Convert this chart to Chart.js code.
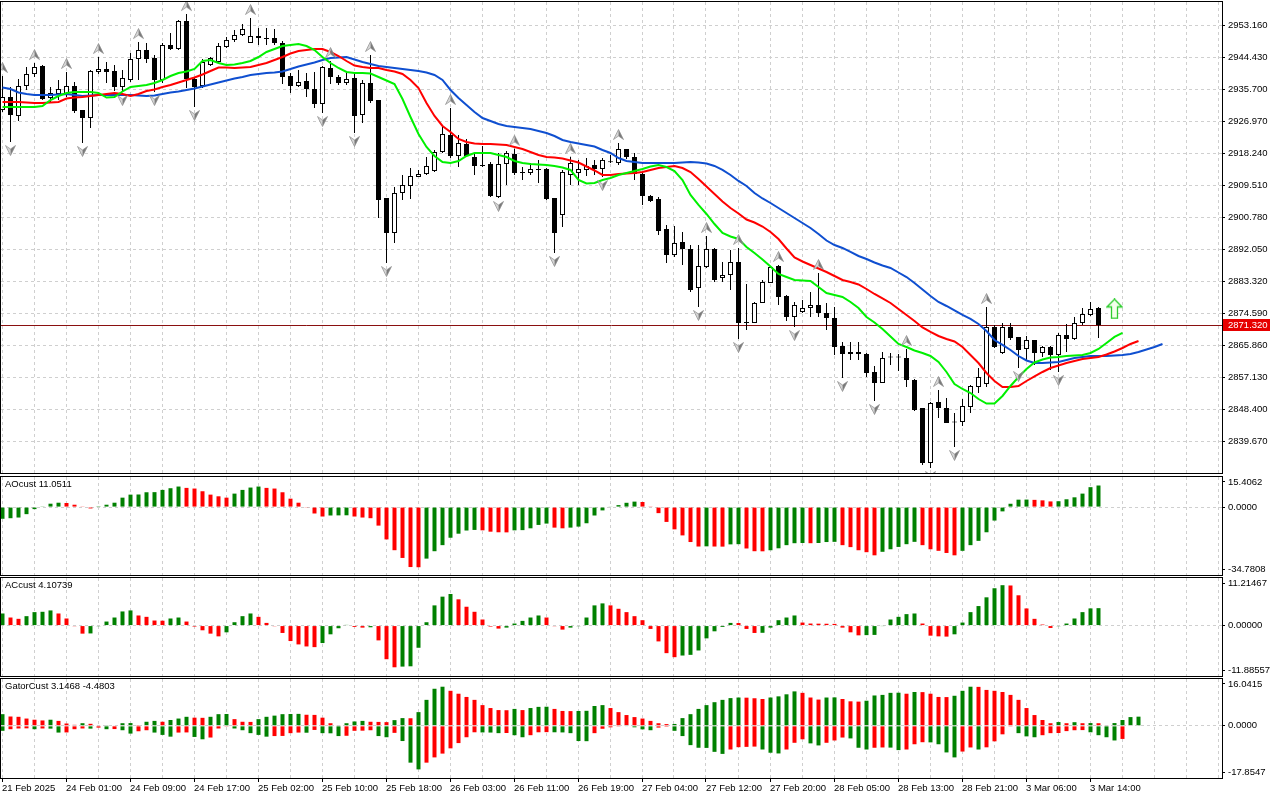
<!DOCTYPE html>
<html><head><meta charset="utf-8">
<script src="https://cdn.jsdelivr.net/npm/chart.js@4.4.1/dist/chart.umd.min.js"></script>
<style>
html,body{margin:0;padding:0;background:#fff;width:1280px;height:800px;overflow:hidden;}
canvas{position:absolute;left:0;}
</style></head><body>
<canvas id="cMain" width="1280" height="476" style="top:0px"></canvas>
<canvas id="cAO" width="1280" height="100" style="top:476px"></canvas>
<canvas id="cAC" width="1280" height="100" style="top:577px"></canvas>
<canvas id="cGator" width="1280" height="122" style="top:678px"></canvas>
<script>
// ---------------- DATA ----------------
const timeLabels = ['21 Feb 2025','24 Feb 01:00','24 Feb 09:00','24 Feb 17:00','25 Feb 02:00','25 Feb 10:00','25 Feb 18:00','26 Feb 03:00','26 Feb 11:00','26 Feb 19:00','27 Feb 04:00','27 Feb 12:00','27 Feb 20:00','28 Feb 05:00','28 Feb 13:00','28 Feb 21:00','3 Mar 06:00','3 Mar 14:00'];

const priceTicks = [2953.160, 2944.430, 2935.700, 2926.970, 2918.240, 2909.510, 2900.780, 2892.050, 2883.320, 2874.590, 2865.860, 2857.130, 2848.400, 2839.670];

const open = [
2929.97,2933.52,2928.34,2936.52,2939.79,2941.98,2933.25,2934.34,2934.07,2936.52,
2929.97,2927.79,2940.34,2941.16,2940.61,2936.25,2938.16,2943.88,2946.34,2944.16,
2938.16,2947.70,2946.61,2954.25,2938.43,2936.52,2942.25,2943.07,2947.16,2949.07,
2950.43,2948.25,2950.16,2949.61,2949.61,2948.25,2939.25,2936.52,2937.88,2935.70,
2931.61,2941.43,2938.98,2937.34,2938.70,2928.61,2937.34,2932.70,2905.97,2896.42,
2907.33,2909.24,2911.69,2912.51,2913.33,2918.51,2923.16,2917.42,2920.70,2917.15,
2914.97,2915.24,2906.24,2915.24,2917.97,2913.06,2912.79,2913.61,2913.88,2905.97,
2901.33,2912.24,2912.79,2913.61,2914.97,2913.88,2915.79,2915.51,2919.33,2917.15,
2912.51,2906.51,2905.69,2897.51,2890.42,2893.96,2892.05,2881.41,2887.14,2892.05,
2884.14,2884.96,2888.51,2872.14,2871.87,2877.32,2882.78,2887.42,2879.23,2873.50,
2874.87,2875.96,2876.78,2874.59,2873.23,2865.59,2863.41,2863.96,2863.41,2858.50,
2855.50,2862.59,2862.59,2862.32,2856.32,2848.68,2833.67,2850.31,2848.68,2844.86,
2844.86,2848.95,2854.41,2855.22,2870.77,2863.68,2870.77,2868.05,2864.77,2867.23,
2863.68,2865.32,2863.14,2868.59,2867.50,2871.87,2874.05,2875.96];

const high = [
2939.25,2936.25,2938.43,2941.70,2942.79,2942.25,2936.25,2938.16,2940.34,2937.61,
2929.97,2940.88,2944.43,2943.07,2942.25,2940.88,2945.52,2948.52,2948.25,2944.98,
2948.25,2950.98,2954.52,2956.16,2938.98,2943.88,2944.43,2948.25,2949.89,2951.80,
2953.43,2955.07,2952.34,2952.34,2952.07,2948.80,2940.07,2940.88,2940.07,2940.34,
2941.98,2943.34,2939.52,2940.34,2940.07,2938.16,2944.98,2932.70,2905.97,2908.97,
2912.24,2914.15,2913.61,2917.15,2919.06,2925.88,2930.52,2923.16,2922.06,2918.24,
2920.15,2915.79,2918.24,2918.80,2919.40,2914.42,2915.51,2916.34,2914.15,2905.97,
2913.61,2917.20,2916.34,2916.88,2916.34,2916.88,2917.70,2920.97,2919.33,2918.24,
2912.79,2906.79,2906.24,2898.60,2898.33,2896.69,2893.14,2893.14,2895.60,2892.33,
2888.51,2891.78,2892.33,2882.50,2877.59,2883.60,2887.42,2887.69,2879.50,2877.59,
2878.14,2880.32,2885.51,2877.32,2876.23,2866.68,2866.68,2866.68,2863.68,2860.14,
2863.96,2863.68,2863.41,2864.77,2856.59,2848.68,2850.31,2853.59,2851.41,2847.32,
2851.13,2854.95,2859.59,2876.23,2871.32,2871.87,2871.87,2868.05,2868.32,2867.23,
2865.59,2865.59,2869.14,2871.59,2873.50,2875.96,2877.59,2876.23];

const low = [
2929.43,2921.24,2926.97,2935.43,2938.98,2932.70,2931.88,2932.70,2933.52,2929.15,
2920.97,2925.06,2939.79,2937.34,2935.16,2934.88,2937.61,2938.16,2942.79,2934.88,
2937.34,2946.34,2946.34,2935.97,2930.79,2935.97,2941.98,2942.52,2946.89,2948.52,
2950.16,2948.25,2947.70,2947.70,2947.70,2937.06,2934.61,2936.25,2933.52,2930.52,
2929.15,2937.06,2936.79,2936.79,2923.70,2926.43,2931.88,2900.51,2888.23,2893.69,
2905.42,2905.69,2911.69,2912.24,2913.06,2918.24,2916.88,2914.42,2917.15,2912.24,
2914.42,2906.24,2905.97,2909.51,2912.24,2910.88,2912.24,2910.06,2905.42,2890.96,
2898.05,2909.51,2909.51,2911.97,2912.24,2911.69,2915.51,2914.97,2916.61,2910.88,
2904.06,2904.88,2895.87,2888.23,2889.87,2887.69,2880.32,2876.23,2886.87,2883.05,
2883.05,2880.87,2867.50,2869.96,2871.87,2877.32,2882.78,2876.78,2872.41,2870.77,
2874.59,2873.50,2873.50,2869.96,2863.14,2856.86,2861.78,2861.78,2857.13,2850.59,
2855.50,2860.41,2858.77,2854.41,2847.86,2833.13,2832.31,2845.95,2844.59,2838.04,
2843.77,2847.32,2852.77,2854.41,2865.05,2863.41,2867.23,2859.59,2861.78,2860.41,
2862.59,2859.05,2858.50,2863.96,2867.23,2871.32,2873.78,2867.77];

const close = [
2933.52,2928.61,2936.52,2939.79,2941.70,2932.97,2934.61,2935.70,2936.52,2929.70,
2927.79,2940.61,2941.16,2940.34,2936.25,2938.70,2943.88,2946.34,2943.88,2938.16,
2947.70,2946.61,2954.25,2938.43,2936.25,2943.07,2944.16,2947.43,2949.07,2950.43,
2952.07,2950.16,2949.61,2949.34,2948.25,2938.98,2936.52,2937.61,2935.70,2931.61,
2941.70,2938.98,2937.34,2938.43,2928.34,2937.34,2932.43,2905.42,2896.42,2907.33,
2909.51,2911.97,2912.51,2914.70,2918.51,2923.43,2917.42,2920.97,2917.42,2914.70,
2914.70,2906.51,2915.24,2918.24,2912.79,2912.79,2913.88,2913.75,2905.69,2896.42,
2913.06,2915.51,2913.88,2914.70,2913.88,2916.34,2915.70,2919.33,2917.15,2912.51,
2906.51,2905.15,2896.96,2890.42,2893.69,2892.05,2880.87,2887.42,2892.05,2883.60,
2884.96,2888.51,2871.87,2871.87,2877.32,2883.05,2887.14,2878.96,2873.50,2876.78,
2875.96,2876.78,2874.59,2873.23,2865.32,2863.41,2863.96,2863.41,2858.23,2855.50,
2862.32,2862.45,2862.45,2856.32,2848.14,2833.67,2850.04,2848.68,2844.59,2844.72,
2849.22,2854.68,2857.13,2870.77,2865.32,2870.77,2867.77,2864.50,2867.23,2863.68,
2865.32,2863.14,2868.59,2867.50,2871.87,2874.32,2875.69,2871.32];

// Alligator lines (already shifted forward as drawn)
const jaw = [
2936.11,2935.70,2934.75,2934.34,2934.07,2934.07,2934.07,2934.20,2934.34,2934.07,
2933.79,2933.93,2934.07,2934.07,2934.07,2934.07,2934.07,2933.93,2933.79,2933.93,
2934.34,2934.75,2935.02,2935.43,2935.84,2936.39,2936.93,2937.48,2938.02,2938.57,
2938.98,2939.52,2939.79,2940.07,2940.20,2940.47,2941.16,2941.84,2942.38,2942.93,
2943.61,2944.16,2944.29,2944.43,2943.75,2943.07,2942.52,2941.98,2941.70,2941.43,
2941.16,2940.88,2940.61,2940.20,2939.52,2938.16,2935.43,2933.25,2931.34,2929.43,
2927.79,2926.97,2926.16,2925.61,2925.34,2925.06,2924.79,2924.25,2923.70,2922.88,
2921.79,2921.24,2920.83,2920.42,2920.02,2919.06,2918.24,2916.88,2916.06,2915.79,
2915.51,2915.51,2915.51,2915.51,2915.51,2915.65,2915.79,2915.65,2915.38,2914.70,
2913.61,2912.24,2910.61,2909.24,2907.33,2905.83,2904.60,2903.24,2901.87,2900.51,
2899.15,2897.78,2896.15,2894.37,2893.14,2892.33,2891.24,2890.15,2889.33,2888.37,
2887.55,2886.87,2885.64,2884.41,2882.78,2881.01,2879.23,2877.59,2876.50,2875.28,
2874.05,2872.96,2871.59,2869.69,2867.23,2865.87,2864.50,2862.86,2861.64,2860.95,
2860.95,2861.09,2861.23,2861.78,2862.32,2862.59,2862.86,2862.86,2862.86,2863.00,
2863.14,2863.41,2863.96,2864.64,2865.32,2866.14];

const teeth = [
2932.15,2932.15,2932.15,2932.02,2931.88,2931.88,2932.02,2932.15,2933.11,2933.38,
2933.52,2933.79,2934.07,2934.34,2934.61,2934.34,2933.79,2934.34,2935.16,2935.56,
2936.25,2936.79,2937.48,2938.16,2938.84,2939.66,2940.61,2941.57,2941.57,2941.43,
2941.57,2941.70,2942.25,2942.79,2943.61,2944.43,2945.39,2946.07,2946.34,2946.61,
2946.61,2945.79,2944.70,2943.34,2942.11,2941.70,2941.43,2941.43,2940.88,2940.47,
2939.79,2938.16,2935.97,2931.88,2928.34,2925.61,2923.97,2922.06,2921.24,2920.83,
2920.70,2920.70,2920.56,2920.42,2919.88,2919.33,2918.51,2917.70,2917.15,2917.01,
2916.74,2916.20,2915.65,2914.56,2913.47,2912.24,2912.24,2912.51,2912.65,2912.79,
2913.06,2913.61,2914.15,2914.43,2914.70,2914.15,2913.06,2911.15,2909.10,2907.06,
2905.01,2903.24,2901.74,2900.10,2899.28,2898.19,2896.69,2894.78,2892.19,2889.74,
2888.64,2887.69,2886.73,2885.78,2884.69,2883.60,2883.05,2882.37,2881.14,2879.78,
2878.55,2877.32,2875.69,2874.05,2872.41,2870.64,2869.41,2868.32,2867.50,2866.82,
2865.32,2863.14,2860.95,2858.23,2856.04,2854.41,2854.41,2854.68,2856.04,2857.27,
2858.50,2859.59,2860.27,2860.95,2861.50,2862.04,2862.32,2862.59,2863.27,2864.09,
2865.05,2866.14,2866.96];

const lips = [
2930.79,2930.79,2930.79,2930.79,2930.79,2931.06,2932.70,2933.79,2934.61,2934.88,
2934.88,2934.88,2934.61,2933.38,2933.52,2935.02,2936.25,2936.52,2936.79,2937.34,
2938.16,2939.25,2940.07,2940.47,2941.16,2943.34,2943.61,2942.79,2942.25,2942.38,
2942.79,2943.34,2944.43,2945.79,2946.61,2947.43,2947.70,2947.98,2947.43,2946.34,
2944.43,2942.79,2941.43,2940.34,2940.07,2940.07,2939.93,2938.98,2938.02,2937.06,
2932.97,2928.07,2923.43,2919.88,2917.42,2915.79,2915.51,2916.06,2917.42,2918.24,
2918.24,2918.24,2917.70,2917.15,2916.06,2915.51,2915.24,2915.10,2914.97,2914.70,
2914.29,2913.61,2910.88,2909.92,2910.06,2910.88,2911.42,2912.24,2912.79,2913.33,
2913.88,2914.56,2914.97,2914.42,2913.33,2910.88,2906.79,2904.06,2901.60,2898.87,
2896.42,2895.46,2894.78,2892.60,2890.96,2889.19,2887.28,2885.23,2884.42,2883.60,
2883.46,2883.32,2881.69,2880.05,2879.50,2878.96,2877.59,2875.96,2873.50,2872.00,
2870.23,2868.19,2866.14,2865.32,2864.36,2863.68,2862.86,2861.23,2858.50,2855.22,
2853.86,2852.77,2851.13,2849.90,2849.90,2851.95,2854.68,2857.13,2859.32,2861.09,
2861.91,2862.46,2862.59,2862.86,2863.00,2863.14,2863.68,2864.77,2866.41,2868.05,
2869.14];

const upFractals = [0,4,8,12,17,23,31,41,46,56,64,71,77,88,92,97,102,113,117,123];
const downFractals = [1,10,15,19,24,40,44,48,62,69,75,87,92,99,105,109,116,119,127,132];
const buySignalIndex = [139];
const buySignalPrice = [2875.70];

const ao = [
-6.0,-5.7,-5.35,-3.62,-1.04,0.35,1.73,2.24,2.10,1.21,
0.17,-0.69,0.1,1.21,2.24,4.83,6.38,6.45,7.59,7.65,
8.80,9.66,10.52,9.83,9.49,8.11,6.38,5.52,4.83,6.90,
8.80,10.0,10.52,9.83,9.49,7.59,4.31,2.24,-0.17,-3.28,
-4.83,-4.31,-4.25,-4.2,-4.83,-5.35,-5.69,-9.49,-16.56,-22.08,
-26.05,-30.71,-30.8,-26.39,-22.6,-19.49,-15.7,-13.63,-12.0,-11.7,
-11.9,-12.6,-12.9,-12.95,-11.9,-11.8,-10.87,-9.14,-8.45,-10.52,
-10.87,-10.52,-10.0,-8.28,-4.31,-1.7,0.2,1.0,2.2,2.8,
2.6,0.35,-3.1,-7.6,-11.4,-14.5,-17.9,-20.2,-20.1,-20.2,
-20.25,-19.1,-19.0,-21.2,-22.6,-22.65,-22.1,-21.1,-19.5,-18.5,
-18.4,-18.5,-18.4,-17.9,-17.8,-19.5,-20.5,-22.1,-23.1,-24.7,
-22.9,-21.6,-20.4,-19.0,-17.8,-19.5,-21.6,-22.4,-23.5,-24.7,
-22.4,-19.5,-17.3,-12.9,-6.9,-2.2,1.7,3.8,3.85,3.7,
3.45,2.9,3.0,4.0,5.0,6.9,10.2,11.0511];

const ac = [
2.85,1.90,1.59,2.22,3.17,3.25,3.57,2.85,1.67,-0.16,
-1.90,-1.85,-0.16,0.95,1.90,3.33,3.57,2.38,2.06,1.19,
1.15,1.67,1.90,0.95,-0.24,-1.11,-1.90,-2.54,-1.59,0.79,
2.22,2.85,2.06,0.63,-0.16,-1.74,-3.65,-4.44,-4.92,-5.08,
-4.12,-2.06,-0.63,0.16,-0.32,-0.48,-0.40,-3.49,-7.93,-9.83,
-9.67,-9.60,-5.23,0.79,4.76,6.82,7.45,6.19,4.44,3.25,
1.43,-0.24,-0.71,-0.48,0.48,1.11,1.90,2.38,1.90,-0.16,
-0.95,-0.48,-0.16,1.90,4.76,5.23,4.76,3.96,3.17,2.22,
1.27,-0.79,-3.73,-6.50,-7.45,-7.06,-6.90,-5.87,-3.01,-1.35,
-0.32,0.63,0.60,-0.79,-1.74,-1.70,-0.48,1.27,1.90,2.38,
0.71,0.48,0.45,0.43,0.40,-0.48,-1.59,-2.30,-2.25,-2.20,
-0.08,1.43,2.06,2.70,2.85,0.48,-2.38,-2.54,-2.60,-2.06,
0.71,3.17,4.60,6.66,8.80,9.52,9.45,7.14,4.04,1.59,
0.24,-0.56,-0.16,0.48,1.67,3.17,4.05,4.10739];

const gatorUp = [
4.0,3.2,3.1,2.5,2.1,1.85,2.1,1.7,0.8,0.35,
0.9,0.7,0.2,0.25,0.15,0.9,0.95,0.05,1.4,1.7,
1.4,2.0,2.5,3.1,2.8,2.75,3.1,4.0,4.05,2.3,
1.4,1.35,2.3,3.1,3.5,4.0,4.05,4.1,3.8,3.75,
2.8,0.9,0.1,0.9,1.5,1.7,1.4,1.35,1.27,1.96,
2.65,2.6,4.7,8.9,12.7,13.4,12.0,11.0,9.9,8.9,
7.1,6.1,5.4,5.35,5.8,5.4,6.1,6.5,6.55,5.8,
5.1,5.05,5.1,5.15,6.8,7.1,6.1,4.7,3.7,3.0,
2.5,1.7,0.9,0.6,0.65,2.65,4.0,5.8,7.1,8.1,
8.9,9.5,9.7,9.65,9.45,9.2,9.7,10.1,10.8,11.8,
11.3,9.7,9.0,9.7,9.75,9.2,8.4,8.3,8.6,10.4,
10.6,11.3,11.35,11.0,11.6,11.55,11.0,9.9,9.85,10.3,
12.0,13.4,13.35,12.3,12.0,11.6,10.6,8.9,6.1,3.7,
2.0,0.9,1.3,0.9,1.25,0.9,0.95,0.9,0.1,0.95,
2.0,3.0,3.1468];

const gatorLo = [
1.7,1.15,0.9,0.85,1.15,0.9,0.95,2.3,2.25,1.15,
0.9,0.95,0.6,1.15,1.1,1.5,2.65,1.85,1.5,2.3,
3.1,3.7,2.3,2.25,3.8,4.6,4.0,0.9,0.1,0.9,
1.5,2.5,3.1,3.7,3.5,3.45,2.5,2.3,2.35,1.4,
2.5,2.55,3.5,3.4,1.7,1.65,1.5,3.5,3.9,2.4,
5.2,12.6,14.9,12.6,10.8,9.5,7.7,5.9,3.9,2.2,
2.25,2.3,2.5,2.45,3.2,3.9,3.2,2.2,2.15,2.2,
2.25,2.5,5.2,5.25,2.5,1.0,0.5,0.1,0.15,0.5,
1.2,1.5,0.6,0.3,1.7,3.5,6.6,7.5,7.55,8.9,
9.6,8.1,7.3,7.2,7.1,8.1,9.2,9.45,8.1,5.8,
4.6,6.0,6.7,5.8,5.0,4.0,4.3,7.5,8.1,7.5,
7.4,7.45,8.3,8.1,6.3,5.6,5.65,6.3,9.1,10.8,
8.8,7.4,8.1,7.35,5.3,2.9,0.1,2.5,3.6,3.9,
3.2,2.5,2.45,1.8,1.5,1.45,2.2,3.2,3.9,5.0,
4.4803];

// axis ranges / labels
const priceMin = 2830.941, priceMax = 2959.435;
const aoRange = [-34.7808, 15.4062], aoAxisLabels = ['15.4062','0.0000','-34.7808'];
const acRange = [-11.88557, 11.21467], acAxisLabels = ['11.21467','0.00000','-11.88557'];
const gatorRange = [-17.8547, 16.0415], gatorAxisLabels = ['16.0415','0.0000','-17.8547'];

// ---------------- STYLE ----------------
const X_MIN = -0.1875, X_MAX = 152.4375;
const GRID = '#cfcfcf';
const GREEN = '#008000', RED = '#ff0000';
const FONT = {family: "'Liberation Sans', Arial, sans-serif", size: 9.5};
const FONT_CSS = "9.5px 'Liberation Sans', Arial, sans-serif";

const framePlugin = {
  id: 'frame',
  beforeDatasetsDraw(chart, args, opts) {
    if (!opts.priceLabel) return;
    const {ctx, chartArea: a} = chart;
    const y = Math.round(chart.scales.y.getPixelForValue(opts.priceLabel.value)) + 0.5;
    ctx.save();
    ctx.strokeStyle = '#8a1010'; ctx.lineWidth = 1;
    ctx.beginPath(); ctx.moveTo(a.left, y); ctx.lineTo(a.right, y); ctx.stroke();
    ctx.restore();
  },
  afterDraw(chart, args, opts) {
    const {ctx, chartArea: a} = chart;
    ctx.save();
    ctx.strokeStyle = '#000'; ctx.lineWidth = 1;
    ctx.strokeRect(a.left - 0.5, a.top - 0.5, a.right - a.left + 1, a.bottom - a.top + 1);
    if (opts.title) {
      ctx.fillStyle = '#000'; ctx.font = FONT_CSS; ctx.textBaseline = 'top'; ctx.textAlign = 'left';
      ctx.fillText(opts.title, a.left + 4, a.top + 3);
    }
    if (opts.priceLabel) {
      const y = Math.round(chart.scales.y.getPixelForValue(opts.priceLabel.value));
      ctx.fillStyle = '#e60000';
      ctx.fillRect(a.right + 1, y - 6, 47, 12);
      ctx.fillStyle = '#fff'; ctx.font = FONT_CSS; ctx.textBaseline = 'middle'; ctx.textAlign = 'left';
      ctx.fillText(opts.priceLabel.text, a.right + 6, y + 0.5);
    }
    ctx.restore();
  }
};

function xScale(withLabels) {
  const isLab = (i) => i % 2 === 0 && i / 2 < timeLabels.length;
  return {
    type: 'linear', min: X_MIN, max: X_MAX, offset: false,
    grid: { color: GRID, lineWidth: 1, offset: false, drawTicks: withLabels, tickLength: 4, tickWidth: 1,
            tickColor: (c) => (withLabels && isLab(c.index)) ? '#000' : 'rgba(0,0,0,0)', tickBorderDash: [] },
    border: { display: false, dash: [3, 3] },
    ticks: { display: withLabels, autoSkip: false, maxRotation: 0, minRotation: 0, align: 'start', padding: 1,
             color: '#000', font: FONT, callback: (v, i) => isLab(i) ? timeLabels[i / 2] : '' },
    afterBuildTicks: (ax) => { const t = []; for (let k = 0; k <= 38; k++) t.push({value: 4 * k - 0.0625}); ax.ticks = t; },
    afterFit: (ax) => { ax.height = withLabels ? 22 : 0; ax.paddingLeft = 0; ax.paddingRight = 0; }
  };
}

function subY(range, labels, paneH, gridOnTop) {
  const [min, max] = range;
  return {
    type: 'linear', position: 'right', min, max,
    grid: { color: (c) => (c.tick && c.tick.value === 0) ? GRID : 'rgba(0,0,0,0)', drawTicks: true, tickLength: 3,
            tickColor: '#000', tickBorderDash: [], z: gridOnTop ? 1 : 0 },
    border: { display: false, dash: [3, 3] },
    ticks: { autoSkip: false, padding: 3, color: '#000', font: FONT, callback: (v, i) => labels[i] },
    afterBuildTicks: (ax) => { const vpp = (max - min) / paneH; ax.ticks = [{value: max - 5 * vpp}, {value: 0}, {value: min + 6 * vpp}]; },
    afterFit: (ax) => { ax.width = 58; ax.paddingTop = 0; ax.paddingBottom = 0; }
  };
}

function histColors(vals) {
  const out = []; let col = GREEN;
  vals.forEach((v, i) => { if (i > 0) { if (v > vals[i-1]) col = GREEN; else if (v < vals[i-1]) col = RED; } out.push(col); });
  return out;
}

function arrowImg(up) {
  const c = document.createElement('canvas'); c.width = 11; c.height = 28;
  const g = c.getContext('2d');
  if (!up) { g.translate(0, 28); g.scale(1, -1); }
  g.beginPath(); g.moveTo(5.5, 0.5); g.lineTo(5.5, 7); g.lineTo(0.5, 10.5); g.closePath();
  g.fillStyle = '#d6d6d6'; g.fill();
  g.beginPath(); g.moveTo(5.5, 0.5); g.lineTo(10.5, 10.5); g.lineTo(5.5, 7); g.closePath();
  g.fillStyle = '#7a7a7a'; g.fill();
  g.beginPath(); g.moveTo(5.5, 0.5); g.lineTo(10.5, 10.5); g.lineTo(5.5, 7); g.lineTo(0.5, 10.5); g.closePath();
  g.strokeStyle = '#8c8c8c'; g.lineWidth = 0.7; g.stroke();
  return c;
}
function buyImg() {
  const c = document.createElement('canvas'); c.width = 17; c.height = 21;
  const g = c.getContext('2d');
  g.beginPath(); g.moveTo(8.5, 0.8); g.lineTo(16, 8.5); g.lineTo(11.5, 8.5); g.lineTo(11.5, 20); g.lineTo(5.5, 20); g.lineTo(5.5, 8.5); g.lineTo(1, 8.5); g.closePath();
  g.fillStyle = '#f4ffec'; g.fill(); g.strokeStyle = '#2ecc2e'; g.lineWidth = 1.3; g.stroke();
  return c;
}

const baseOpts = (padding) => ({
  responsive: false, animation: false, devicePixelRatio: 1, events: [],
  layout: { padding, autoPadding: false },
  plugins: { legend: { display: false }, tooltip: { enabled: false } }
});

// ---------------- MAIN CHART ----------------
const last = close.length - 1;
const lineDs = (arr, color, order) => ({ type: 'line', data: arr.map((v, i) => ({x: i, y: v})), borderColor: color, borderWidth: 2,
  pointRadius: 0, tension: 0, fill: false, order });

const mainOpts = baseOpts({left: 1, right: 0, top: 2, bottom: 3});
mainOpts.scales = {
  x: xScale(false),
  y: { type: 'linear', position: 'right', min: priceMin, max: priceMax,
       grid: { color: GRID, tickLength: 3, tickColor: '#000', tickBorderDash: [] },
       border: { display: false, dash: [3, 3] },
       ticks: { autoSkip: false, padding: 3, color: '#000', font: FONT, callback: (v) => Number(v).toFixed(3) },
       afterBuildTicks: (ax) => { ax.ticks = priceTicks.map(v => ({value: v})); },
       afterFit: (ax) => { ax.width = 58; ax.paddingTop = 0; ax.paddingBottom = 0; } }
};
mainOpts.plugins.frame = { priceLabel: { value: close[last], text: close[last].toFixed(3) } };

new Chart(document.getElementById('cMain'), {
  type: 'bar',
  data: { datasets: [
    { type: 'line', data: buySignalIndex.map((x, k) => ({x, y: buySignalPrice[k]})), showLine: false, pointStyle: buyImg(), pointRadius: 8, order: 0 },
    { type: 'line', data: upFractals.map(i => ({x: i, y: high[i]})), showLine: false, pointStyle: arrowImg(true), pointRadius: 6, order: 1 },
    { type: 'line', data: downFractals.map(i => ({x: i, y: low[i]})), showLine: false, pointStyle: arrowImg(false), pointRadius: 6, order: 1 },
    lineDs(lips, '#00f000', 2),
    lineDs(teeth, '#ff0000', 3),
    lineDs(jaw, '#0f4fd0', 4),
    { type: 'bar', data: open.map((o, i) => ({x: i, y: [o, close[i]]})),
      backgroundColor: open.map((o, i) => close[i] >= o ? '#ffffff' : '#000000'), borderColor: '#000', borderWidth: 1,
      borderSkipped: false, barThickness: 5, minBarLength: 1, grouped: false, inflateAmount: 0, order: 6 },
    { type: 'bar', data: low.map((l, i) => ({x: i, y: [l, high[i]]})), backgroundColor: '#000', borderWidth: 0,
      barThickness: 1, grouped: false, inflateAmount: 0, order: 7 }
  ]},
  options: mainOpts,
  plugins: [framePlugin]
});

// ---------------- SUB CHARTS ----------------
function histChart(id, datasets, yScale, title, padding) {
  const o = baseOpts(padding);
  o.scales = { x: xScale(id === 'cGator'), y: yScale };
  o.plugins.frame = { title };
  new Chart(document.getElementById(id), { type: 'bar', data: { datasets }, options: o, plugins: [framePlugin] });
}
const histDs = (vals, colors, sign) => ({ data: vals.map((v, i) => ({x: i, y: sign * v})), backgroundColor: colors,
  borderWidth: 0, barThickness: 4, grouped: false, inflateAmount: 0 });

histChart('cAO', [histDs(ao, histColors(ao), 1)], subY(aoRange, aoAxisLabels, 98, false),
  'AOcust ' + ao[ao.length - 1], {left: 1, right: 0, top: 1, bottom: 1});
histChart('cAC', [histDs(ac, histColors(ac), 1)], subY(acRange, acAxisLabels, 98, false),
  'ACcust ' + ac[ac.length - 1], {left: 1, right: 0, top: 1, bottom: 1});
histChart('cGator', [histDs(gatorUp, histColors(gatorUp), 1), histDs(gatorLo, histColors(gatorLo), -1)],
  subY(gatorRange, gatorAxisLabels, 99, true),
  'GatorCust ' + gatorUp[gatorUp.length - 1] + ' ' + (-gatorLo[gatorLo.length - 1]), {left: 1, right: 0, top: 1, bottom: 0});
</script>
</body></html>
